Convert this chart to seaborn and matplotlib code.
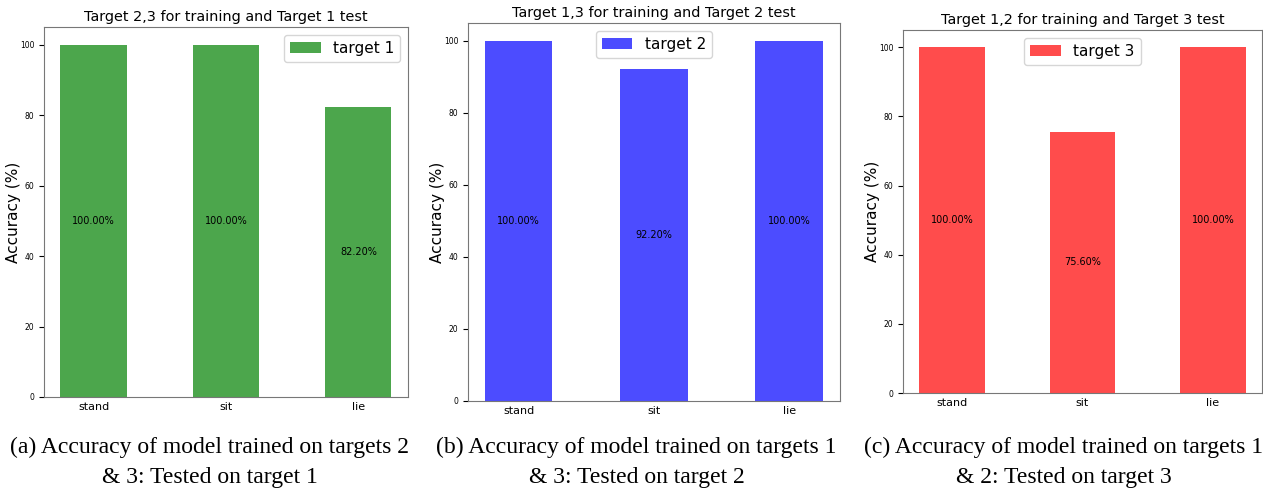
import matplotlib
matplotlib.use("Agg")
import matplotlib.pyplot as plt
import seaborn as sns
import pandas as pd

postures = ["stand", "sit", "lie"]
acc_t1 = [100.0, 100.0, 82.2]
acc_t2 = [100.0, 92.2, 100.0]
acc_t3 = [100.0, 75.6, 100.0]

titles = ["Target 2,3 for training and Target 1 test",
          "Target 1,3 for training and Target 2 test",
          "Target 1,2 for training and Target 3 test"]
legends = ["target 1", "target 2", "target 3"]
captions = ["(a) Accuracy of model trained on targets 2\n& 3: Tested on target 1",
            "(b) Accuracy of model trained on targets 1\n& 3: Tested on target 2",
            "(c) Accuracy of model trained on targets 1\n& 2: Tested on target 3"]
colors = ["green", "blue", "red"]
legend_loc = ["upper right", "upper center", "upper center"]

# axes boxes in figure coords, each panel was a separate picture
boxes = [[0.0348, 0.198, 0.2882, 0.7475],
         [0.3705, 0.190, 0.2945, 0.7636],
         [0.7150, 0.206, 0.2842, 0.7333]]
cap_x = [0.166, 0.504, 0.842]

fig = plt.figure(figsize=(12.63, 4.95), dpi=100)

for i, vals in enumerate([acc_t1, acc_t2, acc_t3]):
    df = pd.DataFrame({"posture": postures, "acc": vals})
    ax = fig.add_axes(boxes[i])
    sns.barplot(data=df, x="posture", y="acc", color=colors[i], alpha=0.7,
                width=0.5, linewidth=0, saturation=1, label=legends[i], ax=ax)
    for j, v in enumerate(vals):
        ax.text(j, v / 2, f"{v:.2f}%", ha="center", va="center", fontsize=7)
    ax.set_xlim(-0.375, 2.375)
    ax.set_ylim(0, 105)
    ax.set_title(titles[i], fontsize=10.4, pad=4)
    ax.set_xlabel("")
    ax.set_ylabel("Accuracy (%)", fontsize=11, labelpad=-1)
    ax.tick_params(axis="y", labelsize=5.5)
    ax.tick_params(axis="x", labelsize=8, length=0)
    for s in ax.spines.values():
        s.set_color("#777777")
    ax.legend(loc=legend_loc[i], fontsize=11)
    fig.text(cap_x[i], 0.118, captions[i], ha="center", va="top",
             fontsize=17, family="Liberation Serif", linespacing=1.55)

fig.savefig("out.png", dpi=100)
